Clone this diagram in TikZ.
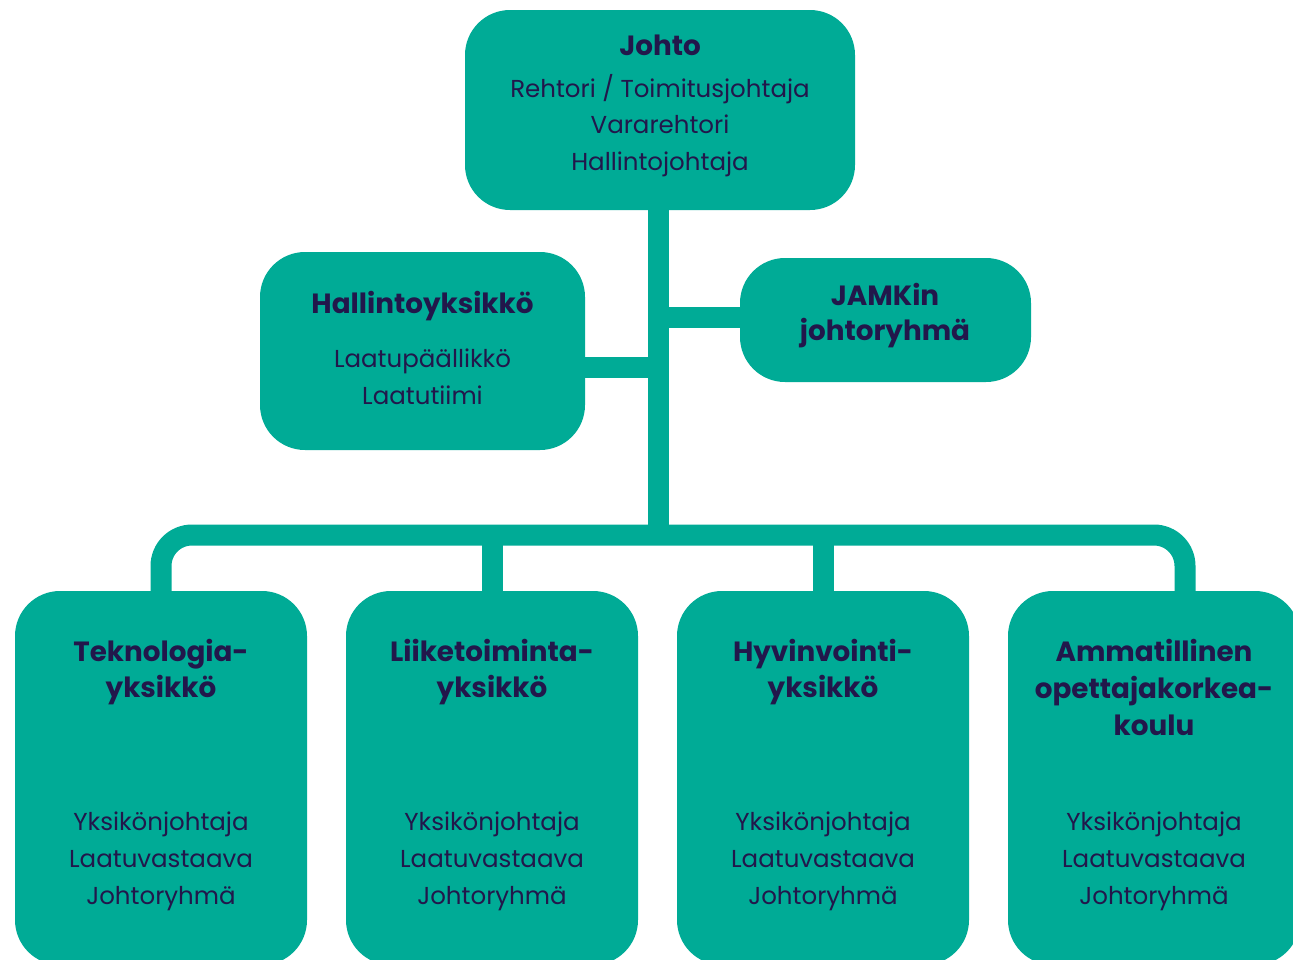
\documentclass[tikz,border=0pt]{standalone}
\usepackage{fontspec}
\setmainfont{Poppins}
\definecolor{teal1}{HTML}{00AB96}
\definecolor{ink}{HTML}{22174B}
\begin{document}
\begin{tikzpicture}[x=1pt,y=-1pt,
 box/.style={fill=teal1, draw=none, rounded corners=45pt, inner sep=0pt},
 conn/.style={draw=teal1, line width=21pt, line cap=butt},
 ttl/.style={anchor=base, text=ink, font=\fontsize{27.8}{32}\selectfont\bfseries, inner sep=0pt},
 sub/.style={anchor=base, text=ink, font=\fontsize{24.5}{28}\selectfont, inner sep=0pt}]
\useasboundingbox (0,0) rectangle (1293,959);
% boxes
\node[box, minimum width=390pt, minimum height=200pt] (johto) at (660,110) {};
\node[box, minimum width=325pt, minimum height=198pt] (hallinto) at (422.5,351) {};
\node[box, minimum width=291pt, minimum height=124pt] (jamk) at (885.5,320) {};
\node[box, minimum width=292pt, minimum height=374pt] (box1) at (161,778) {};
\node[box, minimum width=292pt, minimum height=374pt] (box2) at (492,778) {};
\node[box, minimum width=292pt, minimum height=374pt] (box3) at (823,778) {};
\node[box, minimum width=292pt, minimum height=374pt] (box4) at (1154,778) {};
% connectors
\coordinate (trunk) at (658,535);
\coordinate (hbar) at (658,367);
\coordinate (jbar) at (658,317.5);
\coordinate (d4) at (1185,591);
\draw[conn] (johto.south -| trunk) -- (trunk);
\draw[conn] (hallinto.east |- hbar) -- (hbar);
\draw[conn] (jbar) -- (jamk.west |- jbar);
\draw[conn, rounded corners=31pt] (box1.north) -- (box1.north |- trunk) -- (d4 |- trunk) -- (d4);
\draw[conn] (box2.north) -- (box2.north |- trunk);
\draw[conn] (box3.north) -- (box3.north |- trunk);
% texts
\node[ttl] (t0) at (660,55) {Johto};
\node[sub] (t0a) at (660,97) {Rehtori / Toimitusjohtaja};
\node[sub] (t0b) at (660,133.5) {Vararehtori};
\node[sub] (t0c) at (660,170) {Hallintojohtaja};
\node[ttl] (th) at (422.5,313) {Hallintoyksikkö};
\node[sub] (tha) at (422.5,367) {Laatupäällikkö};
\node[sub] (thb) at (422.5,404) {Laatutiimi};
\node[ttl] (tj) at (885,305) {JAMKin};
\node[ttl] (tjb) at (885,340) {johtoryhmä};
\foreach \n/\x/\a/\b in {1/161/Teknologia-/yksikkö, 2/492/Liiketoiminta-/yksikkö, 3/823/Hyvinvointi-/yksikkö}{
  \node[ttl] (t\n a) at (\x,661) {\a};
  \node[ttl] (t\n b) at (\x,697) {\b};
}
\node[ttl] (t4a) at (1154,661) {Ammatillinen};
\node[ttl] (t4b) at (1154,698) {opettajakorkea-};
\node[ttl] (t4c) at (1154,735) {koulu};
\foreach \n/\x in {1/161, 2/492, 3/823, 4/1154}{
  \node[sub] (s\n a) at (\x,830) {Yksikönjohtaja};
  \node[sub] (s\n b) at (\x,867) {Laatuvastaava};
  \node[sub] (s\n c) at (\x,904) {Johtoryhmä};
}
\end{tikzpicture}
\end{document}
